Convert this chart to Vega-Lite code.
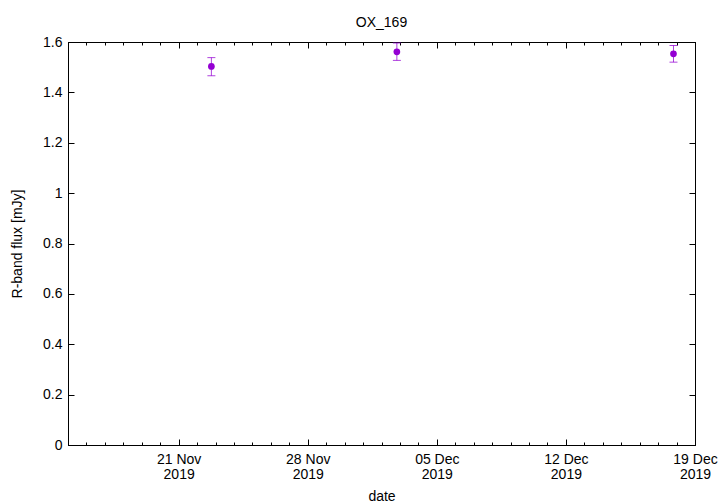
{
  "$schema": "https://vega.github.io/schema/vega-lite/v6.json",
  "width": 627,
  "height": 403,
  "autosize": "none",
  "padding": {"left": 68, "top": 42, "right": 25, "bottom": 59},
  "title": {"text": "OX_169", "font": "Liberation Sans", "fontSize": 14, "fontWeight": "normal", "color": "black", "offset": 5},
  "config": {
    "view": {"stroke": "black", "strokeWidth": 1},
    "axis": {"domainColor": "black", "tickColor": "black", "labelColor": "black", "titleColor": "black", "grid": false, "labelFont": "Liberation Sans", "labelFontSize": 14, "titleFont": "Liberation Sans", "titleFontSize": 14, "titleFontWeight": "normal", "labelOverlap": false, "labelBound": false, "labelFlush": false}
  },
  "data": {"values": [
    {"date": "2019-11-22T18:36:00Z", "flux": 1.503, "lo": 1.466, "hi": 1.538},
    {"date": "2019-12-02T20:00:00Z", "flux": 1.561, "lo": 1.527, "hi": 1.596},
    {"date": "2019-12-17T20:00:00Z", "flux": 1.553, "lo": 1.520, "hi": 1.586}
  ]},
  "resolve": {"axis": {"x": "independent", "y": "independent"}},
  "layer": [
    {
      "mark": {"type": "rule", "color": "#9400d3", "strokeWidth": 1, "opacity": 0.75},
      "encoding": {
        "x": {"field": "date", "type": "temporal", "scale": {"type": "utc", "domain": [1573776000000, 1576713600000], "nice": false},
          "axis": {"orient": "bottom", "title": "date", "titlePadding": 8,
            "values": [1573776000000,1573862400000,1573948800000,1574035200000,1574121600000,1574208000000,1574294400000,1574380800000,1574467200000,1574553600000,1574640000000,1574726400000,1574812800000,1574899200000,1574985600000,1575072000000,1575158400000,1575244800000,1575331200000,1575417600000,1575504000000,1575590400000,1575676800000,1575763200000,1575849600000,1575936000000,1576022400000,1576108800000,1576195200000,1576281600000,1576368000000,1576454400000,1576540800000,1576627200000,1576713600000],
            "labelExpr": "utcday(datum.value) == 4 ? [utcFormat(datum.value, '%d %b'), utcFormat(datum.value, '%Y')] : ''",
            "tickSize": {"condition": {"test": "utcday(datum.value) == 4", "value": -6}, "value": -3},
            "labelPadding": 13, "labelLineHeight": 15, "labelAlign": "center"}},
        "y": {"field": "lo", "type": "quantitative", "scale": {"domain": [0, 1.6], "nice": false},
          "axis": {"orient": "left", "title": "R-band flux [mJy]", "values": [0, 0.2, 0.4, 0.6, 0.8, 1, 1.2, 1.4, 1.6], "format": "~g", "tickSize": -6, "labelPadding": 12, "titlePadding": 18}},
        "y2": {"field": "hi"}
      }
    },
    {
      "mark": {"type": "tick", "orient": "horizontal", "color": "#9400d3", "size": 8, "thickness": 1, "opacity": 0.75},
      "encoding": {
        "x": {"field": "date", "type": "temporal", "axis": null},
        "y": {"field": "lo", "type": "quantitative", "axis": null}
      }
    },
    {
      "mark": {"type": "tick", "orient": "horizontal", "color": "#9400d3", "size": 8, "thickness": 1, "opacity": 0.75},
      "encoding": {
        "x": {"field": "date", "type": "temporal", "axis": null},
        "y": {"field": "hi", "type": "quantitative", "axis": null}
      }
    },
    {
      "mark": {"type": "point", "filled": true, "color": "#9400d3", "size": 45, "opacity": 1},
      "encoding": {
        "x": {"field": "date", "type": "temporal", "axis": null},
        "y": {"field": "flux", "type": "quantitative", "axis": null}
      }
    },
    {
      "mark": {"type": "point", "opacity": 0},
      "encoding": {
        "x": {"field": "date", "type": "temporal",
          "axis": {"orient": "top", "title": null, "labels": false,
            "values": [1573776000000,1573862400000,1573948800000,1574035200000,1574121600000,1574208000000,1574294400000,1574380800000,1574467200000,1574553600000,1574640000000,1574726400000,1574812800000,1574899200000,1574985600000,1575072000000,1575158400000,1575244800000,1575331200000,1575417600000,1575504000000,1575590400000,1575676800000,1575763200000,1575849600000,1575936000000,1576022400000,1576108800000,1576195200000,1576281600000,1576368000000,1576454400000,1576540800000,1576627200000,1576713600000],
            "tickSize": {"condition": {"test": "utcday(datum.value) == 4", "value": -6}, "value": -3}}},
        "y": {"field": "flux", "type": "quantitative",
          "axis": {"orient": "right", "title": null, "labels": false, "values": [0, 0.2, 0.4, 0.6, 0.8, 1, 1.2, 1.4, 1.6], "tickSize": -6}}
      }
    }
  ]
}
